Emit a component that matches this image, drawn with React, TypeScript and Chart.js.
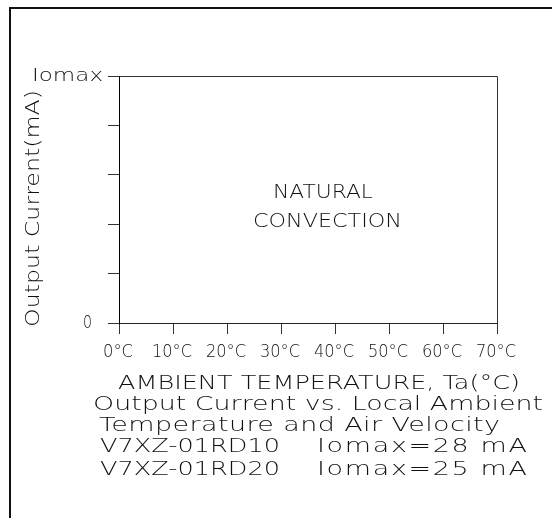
import React, { useEffect, useRef } from "react";
import { Chart, registerables } from "chart.js";

Chart.register(...registerables);

// ---- data ----
const xTickValues = [0, 10, 20, 30, 40, 50, 60, 70];
const xTickLabels = ["0°C", "10°C", "20°C", "30°C", "40°C", "50°C", "60°C", "70°C"];
const yTickValues = [0, 1, 2, 3, 4, 5];
const yTickLabels = ["0", "", "", "", "", "Iomax"];
const xAxisTitle = "AMBIENT TEMPERATURE, Ta(°C)";
const yAxisTitle = "Output Current(mA)";
const plotNote = ["NATURAL", "CONVECTION"];
const captionLines = ["Output Current vs. Local Ambient", "Temperature and Air Velocity"];
const modelNames = ["V7XZ-01RD10", "V7XZ-01RD20"];
const modelIomax = [28, 25]; // mA
const seriesPoints: { x: number; y: number }[] = []; // no curves drawn in the reference

// ---- style ----
const FONT = '"DejaVu Sans", "Liberation Sans", sans-serif';
const WEIGHT = 200;
const INK = "#111";

function fitText(
  ctx: CanvasRenderingContext2D,
  text: string,
  x: number,
  y: number,
  size: number,
  width: number,
  align: "left" | "right" | "center",
  maxScale = 1.42
) {
  if (!text) return;
  ctx.save();
  ctx.font = `${WEIGHT} ${size}px ${FONT}`;
  (ctx as any).letterSpacing = "0px";
  const natural = ctx.measureText(text).width;
  const n = text.length;
  let sx = Math.min(maxScale, width / natural);
  let ls = n > 1 ? (width / sx - natural) / (n - 1) : 0;
  if (ls < 0) {
    ls = 0;
    sx = width / natural;
  }
  (ctx as any).letterSpacing = `${ls}px`;
  const left = align === "left" ? x : align === "right" ? x - width : x - width / 2;
  ctx.translate(left, y);
  ctx.scale(sx, 1);
  ctx.textAlign = "left";
  ctx.textBaseline = "alphabetic";
  ctx.fillStyle = INK;
  ctx.fillText(text, 0, 0);
  ctx.restore();
}

const textPlugin = {
  id: "cadText",
  afterDraw(chart: any) {
    const ctx: CanvasRenderingContext2D = chart.ctx;
    const { left, top, right, bottom } = chart.chartArea;
    const xs = chart.scales.x;
    const ys = chart.scales.y;

    ctx.save();
    // outer frame (partial)
    ctx.strokeStyle = "#111";
    ctx.lineWidth = 2;
    ctx.beginPath();
    ctx.moveTo(10, 518);
    ctx.lineTo(10, 8);
    ctx.lineTo(552, 8);
    ctx.stroke();

    // plot box top/right
    ctx.strokeStyle = "#333";
    ctx.lineWidth = 1;
    ctx.beginPath();
    ctx.moveTo(Math.round(left) + 0.5, Math.round(top) + 0.5);
    ctx.lineTo(Math.round(right) + 0.5, Math.round(top) + 0.5);
    ctx.lineTo(Math.round(right) + 0.5, Math.round(bottom) + 0.5);
    ctx.stroke();
    ctx.restore();

    // x tick labels
    xTickValues.forEach((v, i) => {
      const px = xs.getPixelForValue(v);
      const lbl = xTickLabels[i];
      const w = lbl.length > 3 ? 40 : 30;
      fitText(ctx, lbl, px - 1, bottom + 34, 17, w, "center");
    });

    // y tick labels
    yTickValues.forEach((v, i) => {
      const lbl = yTickLabels[i];
      if (!lbl) return;
      const py = ys.getPixelForValue(v);
      const gap = lbl.length > 1 ? 16 : 27;
      const w = lbl.length > 1 ? 71 : 9;
      fitText(ctx, lbl, left - gap, py + 5, 17, w, "right");
    });

    // y axis title (rotated)
    ctx.save();
    ctx.translate(39, 327);
    ctx.rotate(-Math.PI / 2);
    fitText(ctx, yAxisTitle, 0, 0, 20, 237, "left");
    ctx.restore();

    // note inside plot
    fitText(ctx, plotNote[0], 273, 198, 19, 100, "left");
    fitText(ctx, plotNote[1], 253, 227, 19, 149, "left");

    // x axis title + captions
    fitText(ctx, xAxisTitle, 118, 389, 19, 402, "left");
    fitText(ctx, captionLines[0], 93, 410, 19, 450, "left");
    fitText(ctx, captionLines[1], 99, 431, 19, 401, "left");
    modelNames.forEach((name, i) => {
      const y = 452 + i * 23;
      fitText(ctx, name, 100, y, 19, 180, "left");
      fitText(ctx, `Iomax=${modelIomax[i]} mA`, 317, y, 19, 210, "left");
    });
  },
};

export default function App() {
  const ref = useRef<HTMLCanvasElement | null>(null);
  useEffect(() => {
    if (!ref.current) return;
    const chart = new Chart(ref.current, {
      type: "scatter",
      data: {
        datasets: [
          {
            data: seriesPoints,
            borderColor: "#000",
            pointRadius: 0,
            showLine: true,
          },
        ],
      },
      options: {
        responsive: false,
        animation: false,
        events: [],
        layout: { padding: { top: 76, right: 55, left: 0, bottom: 0 } },
        plugins: { legend: { display: false }, tooltip: { enabled: false }, title: { display: false } },
        scales: {
          x: {
            type: "linear",
            min: 0,
            max: 70,
            afterBuildTicks: (s: any) => {
              s.ticks = xTickValues.map((v) => ({ value: v }));
            },
            ticks: { display: false },
            grid: { drawOnChartArea: false, drawTicks: true, tickLength: 11, color: "#333", lineWidth: 1 },
            border: { display: true, color: "#222", width: 1 },
            afterFit: (s: any) => {
              s.height = 195;
            },
          },
          y: {
            type: "linear",
            min: 0,
            max: 5,
            afterBuildTicks: (s: any) => {
              s.ticks = yTickValues.map((v) => ({ value: v }));
            },
            ticks: { display: false },
            grid: { drawOnChartArea: false, drawTicks: true, tickLength: 11, color: "#333", lineWidth: 1 },
            border: { display: true, color: "#000", width: 1 },
            afterFit: (s: any) => {
              s.width = 119;
            },
          },
        },
      },
      plugins: [textPlugin],
    });
    return () => chart.destroy();
  }, []);
  return (
    <div style={{ position: "absolute", left: 0, top: 0, width: 552, height: 518, background: "#fff" }}>
      <canvas ref={ref} width={552} height={518} style={{ display: "block" }} />
    </div>
  );
}
